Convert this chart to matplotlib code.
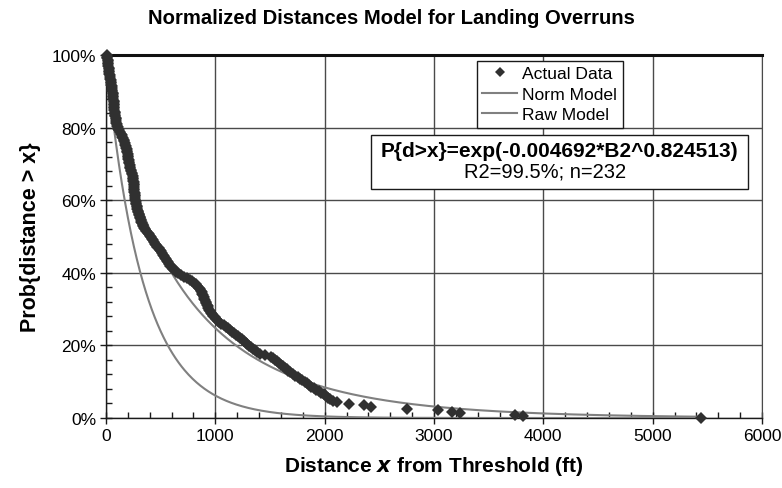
import numpy as np
import matplotlib
matplotlib.use("Agg")
import matplotlib.pyplot as plt
from matplotlib.ticker import MultipleLocator, PercentFormatter
from matplotlib.lines import Line2D
from matplotlib.patches import Rectangle

plt.rcParams['font.family'] = ['Liberation Sans', 'DejaVu Sans']

# Sorted landing overrun distances (ft), n = 232
distances = [
    10, 12, 13, 15, 17, 19, 20, 22, 24, 26, 27, 29,
    31, 34, 37, 40, 43, 46,
    48, 50, 52, 54, 56, 58, 60, 62, 64, 66,
    67, 69, 70, 72, 73, 74, 76, 77, 79, 80, 82,
    84, 87, 90, 93, 96, 100, 103, 106,
    113, 120, 128, 135, 143, 150, 157,
    162, 167, 172, 177, 182, 187,
    190, 192, 195, 197, 200, 202, 205, 207, 210, 212, 215,
    218, 223, 227, 231, 235, 239, 243, 247,
    250, 251, 252, 253, 255,
    256, 257, 259, 260, 262, 263, 264, 266, 267,
    270, 273, 277, 281, 284, 288, 292, 296,
    301, 305, 310, 315, 320, 324, 329, 334, 339,
    347, 359, 370, 382, 394,
    405, 414, 424, 433, 443, 452, 461,
    471, 481, 490, 500, 510, 520,
    529, 538, 548, 557, 567, 576, 586,
    600, 614, 628, 641,
    661, 689, 717, 745,
    769, 788,
    806, 821, 835, 850,
    862, 868, 874, 880, 887, 893, 899,
    905, 911, 917, 923, 929, 935, 941, 947,
    957, 970, 983, 996, 1009, 1022, 1035,
    1055, 1076, 1096, 1117,
    1135, 1153, 1171, 1189, 1206, 1224,
    1242, 1259, 1276, 1293, 1310,
    1329, 1347, 1366, 1385, 1404,
    1450, 1507,
    1527, 1546, 1564, 1583,
    1601, 1618, 1635, 1652, 1669,
    1687, 1709, 1731, 1753, 1775,
    1796, 1816, 1837, 1858,
    1879, 1901, 1924, 1946,
    1970, 1992, 2016,
    2030, 2045, 2077, 2110, 2220, 2363, 2425, 2754, 3034, 3161, 3240, 3740, 3812, 5438,
]

# Model parameters
norm_a, norm_b = 0.004692, 0.824513
raw_a, raw_b = 0.00367, 0.96

x_ticks = [0, 1000, 2000, 3000, 4000, 5000, 6000]
y_ticks = [0.0, 0.2, 0.4, 0.6, 0.8, 1.0]

n = len(distances)
d = np.sort(np.array(distances, dtype=float))
prob = 1.0 - np.arange(n) / (n - 1)

xs = np.linspace(0, 5450, 600)
norm_model = np.exp(-norm_a * xs ** norm_b)
raw_model = np.exp(-raw_a * xs ** raw_b)

fig = plt.figure(figsize=(7.82, 4.89), dpi=100)
ax = fig.add_axes([106 / 782, 1 - 419 / 489, (762 - 106) / 782, (419 - 56) / 489])

ax.set_xlim(0, 6000)
ax.set_ylim(0, 1.0)
ax.set_xticks(x_ticks)
ax.set_yticks(y_ticks)
ax.xaxis.set_minor_locator(MultipleLocator(200))
ax.yaxis.set_minor_locator(MultipleLocator(0.04))
ax.yaxis.set_major_formatter(PercentFormatter(1.0, decimals=0))

ax.grid(True, which='major', color='#4a4a4a', linewidth=1.0)
ax.set_axisbelow(True)

line_col = '#808080'
ax.plot(xs, norm_model, color=line_col, linewidth=1.5, zorder=3)
ax.plot(xs, raw_model, color=line_col, linewidth=1.5, zorder=3)
ax.plot(d, prob, linestyle='none', marker='D', markersize=6.3,
        color='#303030', markeredgewidth=0, zorder=4, clip_on=False)

for s in ['left', 'bottom']:
    ax.spines[s].set_color('#1a1a1a')
    ax.spines[s].set_linewidth(1.0)
ax.spines['right'].set_color('#4a4a4a')
ax.spines['top'].set_color('#111111')
ax.spines['top'].set_linewidth(2.2)

ax.tick_params(axis='both', which='major', direction='inout', length=8,
               width=1, color='#1a1a1a', labelsize=12.5, pad=3)
ax.tick_params(axis='both', which='minor', direction='in', length=4,
               width=1, color='#1a1a1a')

ax.set_xlabel('Distance $\\mathbfit{x}$ from Threshold (ft)', fontsize=15,
              fontweight='bold', labelpad=8)
ax.set_ylabel('Prob{distance > x}', fontsize=15.5, fontweight='bold', labelpad=8)

fig.text(0.5, 1 - 19 / 489, 'Normalized Distances Model for Landing Overruns',
         ha='center', va='center', fontsize=14.6, fontweight='bold')

handles = [
    Line2D([], [], linestyle='none', marker='D', markersize=5.5, color='#303030',
           markeredgewidth=0),
    Line2D([], [], color=line_col, linewidth=1.5),
    Line2D([], [], color=line_col, linewidth=1.5),
]
leg = ax.legend(handles, ['Actual Data', 'Norm Model', 'Raw Model'],
                loc='upper left', bbox_to_anchor=((477 - 106) / 656, 1 - (62 - 56) / 363),
                fontsize=12.6, frameon=True, fancybox=False, framealpha=1,
                edgecolor='#1a1a1a', borderpad=0.3, handlelength=2.0,
                handletextpad=0.3, labelspacing=0.3, borderaxespad=0)
leg.get_frame().set_linewidth(1.0)

ax.text((559 - 106) / 656, 1 - (161 - 56) / 363,
        'P{d>x}=exp(-0.004692*B2^0.824513)',
        transform=ax.transAxes, ha='center', va='bottom', fontsize=15,
        fontweight='bold', zorder=6)
ax.text((545 - 106) / 656, 1 - (163 - 56) / 363,
        'R2=99.5%; n=232',
        transform=ax.transAxes, ha='center', va='top', fontsize=14.5, zorder=6)
ax.add_patch(Rectangle(((371 - 106) / 656, 1 - (190 - 56) / 363),
                       (748 - 371) / 656, (190 - 136) / 363,
                       transform=ax.transAxes, facecolor='white',
                       edgecolor='#1a1a1a', linewidth=1.0, zorder=5))

fig.savefig('out.png', dpi=100)
